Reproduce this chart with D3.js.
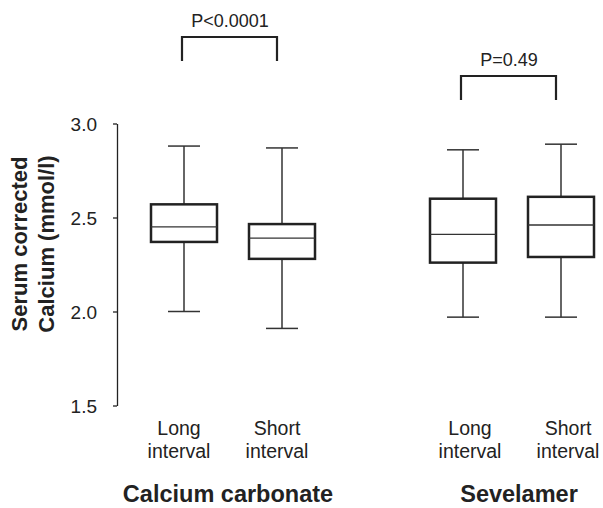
<!DOCTYPE html>
<html>
<head>
<meta charset="utf-8">
<script src="https://cdn.jsdelivr.net/npm/d3@7"></script>
<style>
  body { margin: 0; background: #fff; }
  text { font-family: "Liberation Sans", Arial, sans-serif; fill: #222; }
</style>
</head>
<body>
<script>
const groups = ['Calcium carbonate', 'Sevelamer'];
const conditions = ['Long', 'Short'];
// one entry per group x condition: min, q1, median, q3, max
const minVals = [2.00, 1.91, 1.97, 1.97];
const q1Vals = [2.37, 2.28, 2.26, 2.29];
const medianVals = [2.45, 2.39, 2.41, 2.46];
const q3Vals = [2.57, 2.465, 2.60, 2.61];
const maxVals = [2.88, 2.87, 2.86, 2.89];
const pLabels = ['P<0.0001', 'P=0.49'];
const yTicks = [1.5, 2.0, 2.5, 3.0];

const w = 603;
const h = 508;

const boxes = [];
groups.forEach((g, gi) => {
  conditions.forEach((c, ci) => {
    const i = gi * conditions.length + ci;
    boxes.push({group: g, gi: gi, cond: c, min: minVals[i], q1: q1Vals[i],
      median: medianVals[i], q3: q3Vals[i], max: maxVals[i]});
  });
});

const y = d3.scaleLinear().domain([1.5, 3.0]).range([405.5, 123.5]);
const xGroup = d3.scalePoint().domain(groups).range([233, 512]);
const xInner = d3.scalePoint().domain(conditions).range([-49, 49]);
const cx = d => xGroup(d.group) + xInner(d.cond);
const boxW = 66;
const capW = 32;
// labels under the boxes sit slightly off the box centres
const labelShift = [-5, 7];

const svg = d3.select('body').append('svg')
  .attr('width', w)
  .attr('height', h)
  .attr('viewBox', [0, 0, w, h]);

// y axis
const axis = svg.append('g')
  .attr('transform', 'translate(117,0)')
  .call(d3.axisLeft(y).tickValues(yTicks).tickFormat(d3.format('.1f')).tickSize(4).tickSizeOuter(0).tickPadding(4));
axis.select('.domain').attr('stroke', '#222').attr('stroke-width', 1.3);
axis.selectAll('.tick line').attr('stroke', '#222').attr('stroke-width', 1.3);
axis.selectAll('.tick text')
  .attr('font-size', 19)
  .attr('font-family', '"Liberation Sans", Arial, sans-serif')
  .attr('fill', '#222')
  .attr('dx', -12)
  .attr('dy', '0.35em');

const title = svg.append('text')
  .attr('transform', 'translate(0,244) rotate(-90)')
  .attr('text-anchor', 'middle')
  .attr('font-size', 22)
  .attr('font-weight', 'bold');
title.append('tspan').attr('x', 0).attr('y', 27).text('Serum corrected');
title.append('tspan').attr('x', 0).attr('y', 54).text('Calcium (mmol/l)');

// whiskers and boxes
const bx = svg.selectAll('g.box')
  .data(boxes)
  .enter().append('g')
    .attr('class', 'box');

bx.append('line')
  .attr('x1', cx).attr('x2', cx)
  .attr('y1', d => y(d.max)).attr('y2', d => y(d.q3))
  .attr('stroke', '#333').attr('stroke-width', 1.5);
bx.append('line')
  .attr('x1', cx).attr('x2', cx)
  .attr('y1', d => y(d.q1)).attr('y2', d => y(d.min))
  .attr('stroke', '#333').attr('stroke-width', 1.5);
bx.append('line')
  .attr('x1', d => cx(d) - capW / 2).attr('x2', d => cx(d) + capW / 2)
  .attr('y1', d => y(d.max)).attr('y2', d => y(d.max))
  .attr('stroke', '#333').attr('stroke-width', 1.5);
bx.append('line')
  .attr('x1', d => cx(d) - capW / 2).attr('x2', d => cx(d) + capW / 2)
  .attr('y1', d => y(d.min)).attr('y2', d => y(d.min))
  .attr('stroke', '#333').attr('stroke-width', 1.5);
bx.append('rect')
  .attr('x', d => cx(d) - boxW / 2)
  .attr('y', d => y(d.q3))
  .attr('width', boxW)
  .attr('height', d => y(d.q1) - y(d.q3))
  .attr('fill', '#fff')
  .attr('stroke', '#222')
  .attr('stroke-width', 2.5);
bx.append('line')
  .attr('x1', d => cx(d) - boxW / 2).attr('x2', d => cx(d) + boxW / 2)
  .attr('y1', d => y(d.median)).attr('y2', d => y(d.median))
  .attr('stroke', '#333').attr('stroke-width', 1.3);

// condition labels
const lab = svg.selectAll('text.cond')
  .data(boxes)
  .enter().append('text')
    .attr('class', 'cond')
    .attr('text-anchor', 'middle')
    .attr('font-size', 19.5);
lab.append('tspan').attr('x', d => cx(d) + labelShift[d.gi]).attr('y', 435).text(d => d.cond);
lab.append('tspan').attr('x', d => cx(d) + labelShift[d.gi]).attr('y', 458).text('interval');

// group labels
svg.selectAll('text.group')
  .data(groups)
  .enter().append('text')
    .attr('class', 'group')
    .attr('x', (d, i) => xGroup(d) + labelShift[i])
    .attr('y', 502)
    .attr('text-anchor', 'middle')
    .attr('font-size', 23.5)
    .attr('font-weight', 'bold')
    .text(d => d);

// significance brackets
const bracketTop = [37, 76];
const br = svg.selectAll('g.bracket')
  .data(groups)
  .enter().append('g')
    .attr('class', 'bracket');
br.append('path')
  .attr('d', (d, i) => {
    const p = d3.path();
    const x1 = xGroup(d) + xInner('Long') - 2;
    const x2 = xGroup(d) + xInner('Short') - 5;
    p.moveTo(x1, bracketTop[i] + 24);
    p.lineTo(x1, bracketTop[i]);
    p.lineTo(x2, bracketTop[i]);
    p.lineTo(x2, bracketTop[i] + 24);
    return p.toString();
  })
  .attr('fill', 'none')
  .attr('stroke', '#222')
  .attr('stroke-width', 2.2);
br.append('text')
  .attr('x', d => xGroup(d) + (xInner('Long') + xInner('Short')) / 2 - 3)
  .attr('y', (d, i) => bracketTop[i] - 10)
  .attr('text-anchor', 'middle')
  .attr('font-size', 18)
  .text((d, i) => pLabels[i]);
</script>
</body>
</html>
